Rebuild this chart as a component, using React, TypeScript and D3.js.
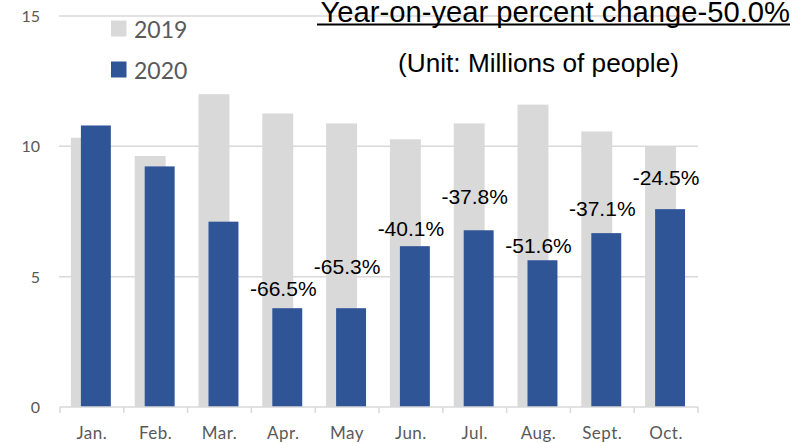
import React from 'react';
import * as d3 from 'd3';

const months = ['Jan.', 'Feb.', 'Mar.', 'Apr.', 'May', 'Jun.', 'Jul.', 'Aug.', 'Sept.', 'Oct.'];
const visitors2019 = [10.33, 9.63, 12.0, 11.26, 10.88, 10.27, 10.88, 11.6, 10.57, 10.0];
const visitors2020 = [10.8, 9.23, 7.11, 3.79, 3.79, 6.17, 6.78, 5.63, 6.67, 7.59];
const pctLabels = [null, null, null, '-66.5%', '-65.3%', '-40.1%', '-37.8%', '-51.6%', '-37.1%', '-24.5%'];
const yTicks = [0, 5, 10, 15];

// manual label nudges (px above the 2020 bar), like the hand-placed labels in the original
const labelGap = [0, 0, 0, 12, 34, 10, 26, 7, 17, 24];

const W = 793, H = 443;
const plot = { left: 60, right: 698, top: 16, bottom: 407 };
const GRAY = '#d9d9d9', BLUE = '#2f5597', TXT = '#595959';

const App = () => {
  const x = d3.scaleBand().domain(months).range([plot.left, plot.right]).padding(0);
  const y = d3.scaleLinear().domain([0, 15]).range([plot.bottom, plot.top]);
  const bw = x.bandwidth();
  const barW = bw * 0.485;
  const center = (m: string) => (x(m) as number) + bw / 2;
  const edges = [...months.map(m => x(m) as number), plot.right];

  return (
    <svg width={W} height={H} style={{ position: 'absolute', left: 0, top: 0 }}>
      <rect width={W} height={H} fill="#fff" />

      {/* gridlines */}
      {yTicks.filter(t => t > 0).map(t => (
        <line key={t} x1={plot.left - 1} x2={plot.right} y1={y(t)} y2={y(t)} stroke={GRAY} strokeWidth={1.5} />
      ))}

      {/* 2019 bars */}
      {months.map((m, i) => (
        <rect key={'a' + m} x={center(m) - 21} y={y(visitors2019[i])} width={barW}
          height={y(0) - y(visitors2019[i])} fill={GRAY} />
      ))}
      {/* 2020 bars */}
      {months.map((m, i) => (
        <rect key={'b' + m} x={center(m) - 11} y={y(visitors2020[i])} width={barW - 1}
          height={y(0) - y(visitors2020[i])} fill={BLUE} />
      ))}

      {/* x axis */}
      <line x1={plot.left} x2={plot.right} y1={y(0)} y2={y(0)} stroke={GRAY} strokeWidth={1.5} />
      {edges.map((e, i) => (
        <line key={i} x1={e} x2={e} y1={y(0)} y2={y(0) + 6} stroke={GRAY} strokeWidth={1.5} />
      ))}
      {months.map(m => (
        <text key={'l' + m} x={center(m)} y={439} textAnchor="middle" fill={TXT}
          fontFamily="Lato" fontSize={17} letterSpacing={0.5}>{m}</text>
      ))}

      {/* y axis labels */}
      {yTicks.map(t => (
        <text key={'y' + t} x={40} y={y(t) + 6} textAnchor="end" fill={TXT}
          fontFamily="Lato" fontSize={16}>{t}</text>
      ))}

      {/* percent change labels */}
      {months.map((m, i) => pctLabels[i] && (
        <text key={'p' + m} x={center(m)} y={y(visitors2020[i]) - labelGap[i]} textAnchor="middle"
          fill="#000" fontFamily="Liberation Sans, Arial" fontSize={21}>{pctLabels[i]}</text>
      ))}

      {/* legend */}
      <rect x={111} y={20.5} width={15.5} height={16} fill={GRAY} />
      <text x={134} y={38} fill={TXT} fontFamily="Lato" fontSize={23}>2019</text>
      <rect x={111} y={61.5} width={15.5} height={16} fill={BLUE} />
      <text x={134} y={79} fill={TXT} fontFamily="Lato" fontSize={23}>2020</text>

      {/* title */}
      <text x={790} y={22} textAnchor="end" fill="#000" fontFamily="Liberation Sans, Arial"
        fontSize={29.2}>Year-on-year percent change-50.0%</text>
      <line x1={317} x2={790} y1={24.5} y2={24.5} stroke="#000" strokeWidth={2} />
      <text x={538.5} y={72} textAnchor="middle" fill="#000" fontFamily="Liberation Sans, Arial"
        fontSize={26.2}>(Unit: Millions of people)</text>
    </svg>
  );
};

export default App;
